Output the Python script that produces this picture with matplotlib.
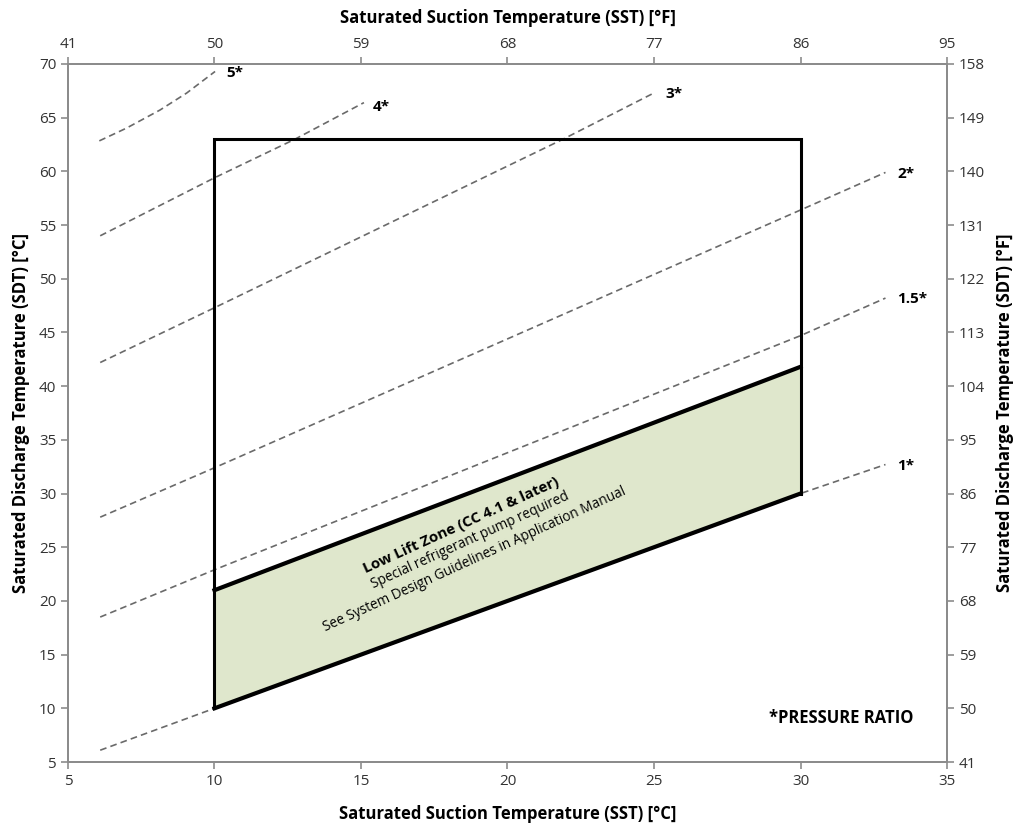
import numpy as np
import matplotlib
matplotlib.use("Agg")
import matplotlib.pyplot as plt

plt.rcParams['font.family'] = ['Open Sans', 'DejaVu Sans']

# pressure ratio curves (SST degC, SDT degC)
pr_labels = ["1*", "1.5*", "2*", "3*", "4*", "5*"]
pr_sst = [
    [6.1, 10, 30, 32.9],
    [6.1, 10, 30, 32.9],
    [6.1, 10, 30, 32.9],
    [6.1, 10, 21.9, 25.0],
    [6.1, 10, 12.75, 15.1],
    [6.07, 7.0, 8.14, 9.05, 10.02],
]
pr_sdt = [
    [6.1, 10, 30, 32.7],
    [18.5, 22.9, 44.7, 48.2],
    [27.8, 32.4, 56.4, 59.9],
    [42.2, 47.3, 63.0, 67.3],
    [54.0, 59.4, 63.0, 66.4],
    [62.84, 64.03, 65.71, 67.29, 69.3],
]
label_pos = [(33.3, 32.6), (33.3, 48.1), (33.3, 59.8), (25.4, 67.2), (15.4, 66.0), (10.4, 69.2)]

# operating envelope
env_sst = [10, 10, 30, 30, 10]
env_sdt = [10, 63, 63, 30, 10]
# low lift zone
low_sst = [10, 30, 30, 10]
low_sdt = [10, 30, 41.8, 21.0]

fig = plt.figure(figsize=(10.16, 8.35), dpi=100)
ax = fig.add_axes([0.0669, 0.0874, 0.8652, 0.836])

for xs, ys in zip(pr_sst, pr_sdt):
    ax.plot(xs, ys, color="#6a6a6a", lw=1.2, ls=(0, (4, 2.5)), zorder=2)
for lab, (lx, ly) in zip(pr_labels, label_pos):
    ax.text(lx, ly, lab, fontsize=11, fontweight="bold", ha="left", va="center", zorder=5)

ax.fill(low_sst, low_sdt, color="#dfe7cc", zorder=1)
ax.plot(env_sst[:4], env_sdt[:4], color="black", lw=2.2, zorder=3, solid_joinstyle="miter")
ax.plot([low_sst[0], low_sst[1]], [low_sdt[0], low_sdt[1]], color="black", lw=3, zorder=3)
ax.plot([low_sst[3], low_sst[2]], [low_sdt[3], low_sdt[2]], color="black", lw=3, zorder=3)

ax.text(18.41, 27.07, "Low Lift Zone (CC 4.1 & later)", fontsize=10.8, fontweight="bold",
        rotation=24.5, ha="center", va="center", rotation_mode="anchor", zorder=5)
ax.text(18.72, 25.67, "Special refrigerant pump required", fontsize=9.8,
        rotation=24.5, ha="center", va="center", rotation_mode="anchor", zorder=5)
ax.text(18.89, 23.81, "See System Design Guidelines in Application Manual", fontsize=9.8,
        rotation=24.5, ha="center", va="center", rotation_mode="anchor", zorder=5)
ax.text(33.84, 9.1, "*PRESSURE RATIO", fontsize=12, fontweight="bold", ha="right", va="center")

ax.set_xlim(5, 35)
ax.set_ylim(5, 70)
ax.set_xticks(np.arange(5, 36, 5))
ax.set_yticks(np.arange(5, 71, 5))

ax2 = ax.twiny()
ax2.set_xlim(41, 95)
ax2.set_xticks(np.arange(41, 96, 9))
ax3 = ax.twinx()
ax3.set_ylim(41, 158)
ax3.set_yticks(np.arange(41, 159, 9))

for a in (ax, ax2, ax3):
    for s in a.spines.values():
        s.set_color("#8c8c8c")
        s.set_linewidth(1.2)
    a.tick_params(colors="#8c8c8c", labelcolor="#333333", labelsize=11, length=5, width=1.2)

ax.set_xlabel("Saturated Suction Temperature (SST) [°C]", fontsize=12, fontweight="bold", labelpad=12)
ax.set_ylabel("Saturated Discharge Temperature (SDT) [°C]", fontsize=12, fontweight="bold", labelpad=6)
ax2.set_xlabel("Saturated Suction Temperature (SST) [°F]", fontsize=12, fontweight="bold", labelpad=10)
ax3.set_ylabel("Saturated Discharge Temperature (SDT) [°F]", fontsize=12, fontweight="bold", labelpad=8)

fig.savefig("out.png", dpi=100)
